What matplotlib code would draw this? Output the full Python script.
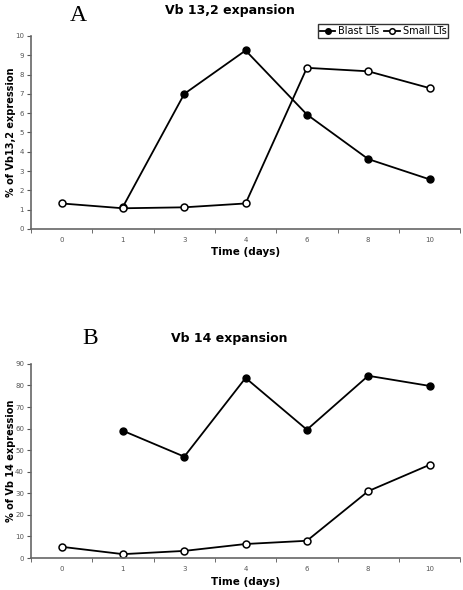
import matplotlib
matplotlib.use('Agg')
import matplotlib.pyplot as plt
import numpy as np

days = ['0', '1', '3', '4', '6', '8', '10']

# panel A: Vb 13,2
blast_a = [np.nan, 1.15, 7.0, 9.25, 5.93, 3.62, 2.57]
small_a = [1.32, 1.07, 1.12, 1.32, 8.35, 8.17, 7.3]

# panel B: Vb 14
blast_b = [np.nan, 59, 47, 83.5, 59.5, 84.5, 79.8]
small_b = [5.2, 1.8, 3.3, 6.5, 8.0, 31, 43.2]

fig = plt.figure(figsize=(4.64, 5.90), dpi=100)
axA = fig.add_axes([0.0668, 0.612, 0.925, 0.327])
axB = fig.add_axes([0.0668, 0.0542, 0.925, 0.329])

def style(ax, ymax, ystep, ylabel):
    x = np.arange(len(days))
    ax.set_xlim(-0.5, len(days) - 0.5)
    ax.set_ylim(0, ymax)
    ax.set_yticks(np.arange(0, ymax + 1, ystep))
    ax.set_xticks(x)
    ax.set_xticklabels(days)
    ax.set_xticks(np.arange(-0.5, len(days), 1), minor=True)
    ax.tick_params(axis='x', which='major', length=0, labelsize=5, labelcolor='#555555', pad=6)
    ax.tick_params(axis='x', which='minor', length=3, color='#555555', direction='out')
    ax.tick_params(axis='y', length=3, color='#555555', labelsize=5, labelcolor='#555555', pad=2)
    for s in ['top', 'right']:
        ax.spines[s].set_visible(False)
    for s in ['left', 'bottom']:
        ax.spines[s].set_color('#666666')
        ax.spines[s].set_linewidth(1.2)
    ax.set_xlabel('Time (days)', fontsize=7.5, fontweight='bold', labelpad=3)
    ax.set_ylabel(ylabel, fontsize=7, fontweight='bold', labelpad=2)
    ax.yaxis.set_label_coords(-0.035, 0.5)

x = np.arange(len(days))
axA.plot(x, blast_a, '-o', color='black', mfc='black', ms=5, lw=1.3, label='Blast LTs')
axA.plot(x, small_a, '-o', color='black', mfc='white', mew=1.1, ms=5, lw=1.3, label='Small LTs')
style(axA, 10, 1, '% of Vb13,2 expression')

axB.plot(x, blast_b, '-o', color='black', mfc='black', ms=5, lw=1.3)
axB.plot(x, small_b, '-o', color='black', mfc='white', mew=1.1, ms=5, lw=1.3)
style(axB, 90, 10, '% of Vb 14 expression')

leg = axA.legend(loc='upper right', bbox_to_anchor=(0.984, 1.085), ncol=2, fontsize=7,
                 frameon=True, fancybox=False, edgecolor='black', handlelength=1.6,
                 handletextpad=0.3, columnspacing=0.5, borderpad=0.2, markerscale=0.8)
leg.get_frame().set_linewidth(1.0)

fig.text(0.495, 0.983, 'Vb 13,2 expansion', ha='center', va='center', fontsize=9, fontweight='bold')
fig.text(0.168, 0.974, 'A', ha='center', va='center', fontsize=17, family='Liberation Serif')
fig.text(0.495, 0.427, 'Vb 14 expansion', ha='center', va='center', fontsize=9, fontweight='bold')
fig.text(0.195, 0.427, 'B', ha='center', va='center', fontsize=17, family='Liberation Serif')

plt.savefig('out.png', dpi=100)
